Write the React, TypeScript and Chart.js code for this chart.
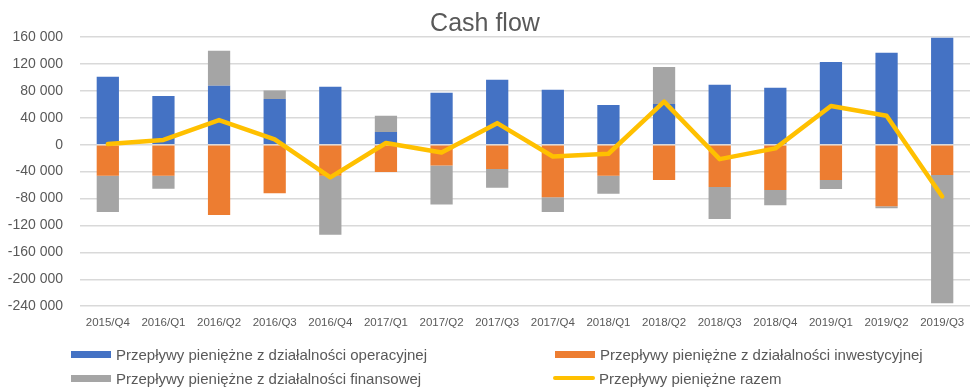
import React, { useEffect, useRef } from "react";
import { Chart, registerables } from "chart.js";

Chart.register(...registerables);

const categories = [
  "2015/Q4", "2016/Q1", "2016/Q2", "2016/Q3", "2016/Q4", "2017/Q1", "2017/Q2", "2017/Q3",
  "2017/Q4", "2018/Q1", "2018/Q2", "2018/Q3", "2018/Q4", "2019/Q1", "2019/Q2", "2019/Q3",
];

const operating = [101000, 72500, 87500, 68000, 86000, 19000, 77000, 96500, 81500, 59000, 60500, 89000, 84500, 123000, 136500, 159000];
const investing = [-46000, -46000, -104500, -72000, -46000, -40500, -31000, -36000, -78000, -46000, -52500, -63000, -67500, -52500, -91500, -45000];
const financing = [-54000, -19500, 52000, 12500, -88000, 24000, -58000, -28000, -22000, -27000, 55000, -47500, -22500, -13500, -3000, -190500];
const total = [1000, 7000, 36500, 8000, -48500, 2500, -11500, 32000, -17500, -13500, 64000, -21500, -5500, 57500, 43000, -77000];

const seriesNames = [
  "Przepływy pieniężne z działalności operacyjnej",
  "Przepływy pieniężne z działalności inwestycyjnej",
  "Przepływy pieniężne z działalności finansowej",
  "Przepływy pieniężne razem",
];
const title = "Cash flow";
const yMin = -240000;
const yMax = 160000;
const yStep = 40000;

const colors = ["#4472C4", "#ED7D31", "#A5A5A5", "#FFC000"];
const textColor = "#595959";
const FONT = '"Liberation Sans", Arial, sans-serif';

function fmt(v: number): string {
  const s = String(Math.abs(v)).replace(/\B(?=(\d{3})+(?!\d))/g, " ");
  return v < 0 ? "-" + s : s;
}

export default function App() {
  const ref = useRef<HTMLCanvasElement>(null);

  useEffect(() => {
    document.body.style.margin = "0";
    const chart = new Chart(ref.current as HTMLCanvasElement, {
      type: "bar",
      data: {
        labels: categories,
        datasets: [
          { label: seriesNames[0], data: operating, backgroundColor: colors[0], stack: "cf", order: 1 },
          { label: seriesNames[1], data: investing, backgroundColor: colors[1], stack: "cf", order: 1 },
          { label: seriesNames[2], data: financing, backgroundColor: colors[2], stack: "cf", order: 1 },
          {
            type: "line",
            label: seriesNames[3],
            data: total,
            borderColor: colors[3],
            backgroundColor: colors[3],
            borderWidth: 4.5,
            pointRadius: 0,
            pointHoverRadius: 0,
            tension: 0,
            borderJoinStyle: "round",
            borderCapStyle: "round",
            stack: "total",
            order: 0,
          } as any,
        ],
      },
      options: {
        responsive: false,
        animation: false,
        devicePixelRatio: 1,
        layout: { padding: { left: 0, right: 8, top: 0, bottom: 49 } },
        datasets: { bar: { barPercentage: 0.4, categoryPercentage: 1 } },
        plugins: {
          legend: { display: false },
          tooltip: { enabled: false },
          title: {
            display: true,
            text: title,
            color: textColor,
            font: { family: FONT, size: 25, weight: "normal", lineHeight: 1.0 },
            padding: { top: 12, bottom: 0 },
          },
        },
        scales: {
          x: {
            stacked: true,
            grid: { display: false, drawTicks: false },
            border: { display: false },
            ticks: {
              color: textColor,
              font: { family: FONT, size: 11.5 },
              padding: 10,
              maxRotation: 0,
              autoSkip: false,
            },
          },
          y: {
            stacked: true,
            min: yMin,
            max: yMax,
            afterFit: (scale: any) => {
              scale.width = 80;
            },
            grid: { color: "#D9D9D9", lineWidth: 1.5, drawTicks: false },
            border: { display: false },
            ticks: {
              stepSize: yStep,
              color: textColor,
              font: { family: FONT, size: 14 },
              padding: 17,
              callback: (v: any) => fmt(Number(v)),
            },
          },
        },
      },
    });
    return () => chart.destroy();
  }, []);

  const legendItems = [
    { name: seriesNames[0], color: colors[0], x: 71, y: 354.5, line: false },
    { name: seriesNames[1], color: colors[1], x: 555, y: 354.5, line: false },
    { name: seriesNames[2], color: colors[2], x: 71, y: 378, line: false },
    { name: seriesNames[3], color: colors[3], x: 553, y: 378, line: true },
  ];

  return (
    <div style={{ position: "relative", width: 978, height: 389, background: "#fff", fontFamily: FONT }}>
      <canvas ref={ref} width={978} height={389} style={{ display: "block" }} />
      {legendItems.map((it) => (
        <div
          key={it.name}
          style={{
            position: "absolute",
            left: it.x,
            top: it.y - 10,
            height: 20,
            display: "flex",
            alignItems: "center",
            whiteSpace: "nowrap",
            color: textColor,
            fontSize: 15,
          }}
        >
          {it.line ? (
            <span
              style={{
                display: "inline-block",
                width: 42,
                height: 4,
                borderRadius: 2,
                background: it.color,
                marginRight: 4,
              }}
            />
          ) : (
            <span
              style={{ display: "inline-block", width: 40, height: 7, background: it.color, marginRight: 5 }}
            />
          )}
          <span>{it.name}</span>
        </div>
      ))}
    </div>
  );
}
